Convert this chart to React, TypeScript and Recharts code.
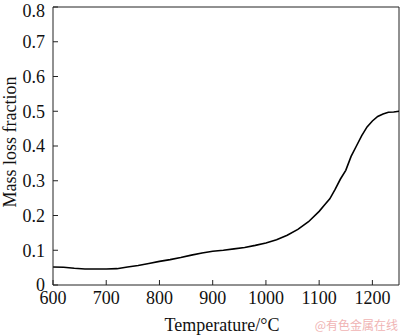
import React from 'react';
import { LineChart, Line, XAxis, YAxis, ReferenceLine } from 'recharts';

const temperatures = [
  600, 620, 640, 660, 680, 700, 720, 740, 760, 780, 800, 820, 840, 860, 880, 900,
  920, 940, 960, 980, 1000, 1020, 1040, 1060, 1080, 1100, 1110, 1120, 1130, 1140,
  1150, 1160, 1170, 1180, 1190, 1200, 1210, 1220, 1230, 1240, 1250,
];
const massLoss = [
  0.052, 0.051, 0.048, 0.046, 0.046, 0.046, 0.047, 0.052, 0.056, 0.062, 0.068, 0.073,
  0.079, 0.086, 0.092, 0.097, 0.1, 0.104, 0.108, 0.114, 0.121, 0.13, 0.143, 0.16,
  0.182, 0.212, 0.23, 0.248, 0.275, 0.305, 0.33, 0.37, 0.4, 0.43, 0.455, 0.472,
  0.485, 0.492, 0.497, 0.498, 0.5,
];
const xTicks = [600, 700, 800, 900, 1000, 1100, 1200];
const yTicks = [0, 0.1, 0.2, 0.3, 0.4, 0.5, 0.6, 0.7, 0.8];

const data = temperatures.map((t, i) => ({ t, v: massLoss[i] }));

const FONT = '"Liberation Serif", "Times New Roman", serif';
const tickStyle = { fontSize: 18, fontFamily: FONT, fill: '#111' };

export default function App() {
  return (
    <div style={{ position: 'absolute', left: 0, top: 0, width: 400, height: 335, background: '#fff', fontFamily: FONT }}>
      <LineChart width={400} height={335} data={data} margin={{ top: 7, right: 1, bottom: 0, left: 0 }}>
        {/* negative tickSize turns the ticks inward */}
        <XAxis
          dataKey="t"
          type="number"
          domain={[600, 1250]}
          ticks={xTicks}
          tickSize={-5}
          tickMargin={11}
          tickLine={{ stroke: '#222' }}
          tick={tickStyle}
          height={50}
          axisLine={{ stroke: '#222' }}
        />
        <YAxis
          type="number"
          domain={[0, 0.8]}
          ticks={yTicks}
          tickSize={-5}
          tickMargin={13}
          tickLine={{ stroke: '#222' }}
          tick={tickStyle}
          width={53}
          axisLine={{ stroke: '#222' }}
        />
        <ReferenceLine y={0.8} stroke="#222" />
        <ReferenceLine x={1250} stroke="#222" />
        <Line type="linear" dataKey="v" stroke="#000" strokeWidth={1.6} dot={false} isAnimationActive={false} />
        <text x={222} y={331} textAnchor="middle" style={{ fontSize: 18, fontFamily: FONT }} fill="#111">
          Temperature/°C
        </text>
        <text
          x={16}
          y={142}
          transform="rotate(-90 16 142)"
          textAnchor="middle"
          style={{ fontSize: 18, fontFamily: FONT }}
          fill="#111"
        >
          Mass loss fraction
        </text>
        <text x={398} y={330} textAnchor="end" style={{ fontSize: 12, fontFamily: '"Noto Sans CJK SC", sans-serif' }} fill="#f0b4b4">
          @有色金属在线
        </text>
      </LineChart>
    </div>
  );
}
